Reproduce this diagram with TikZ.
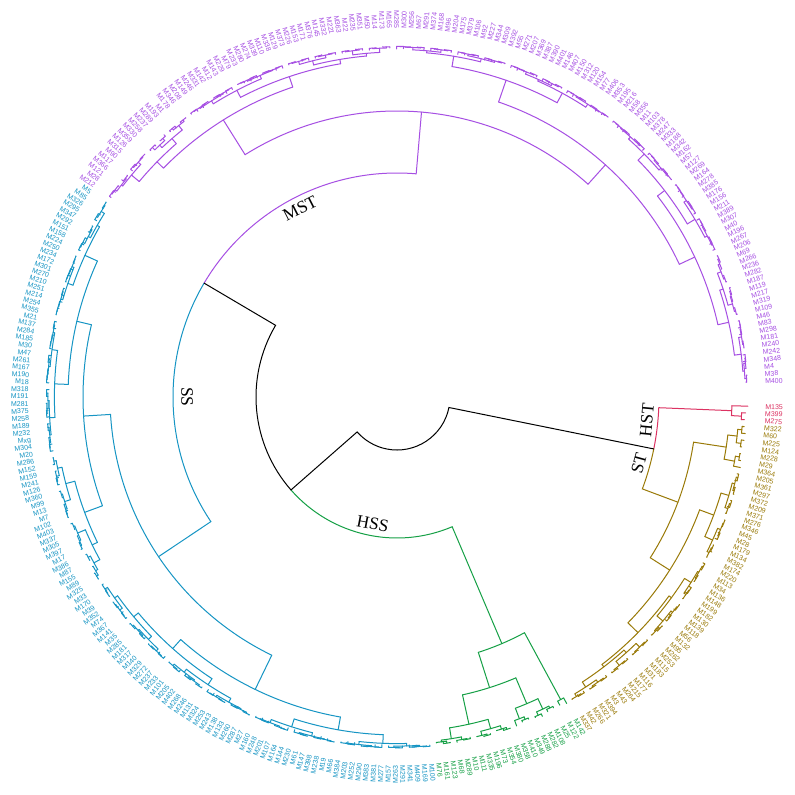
\documentclass[tikz,border=0pt]{standalone}
\usepackage{fontspec}
\setmainfont{Liberation Serif}
\newfontfamily\labfont{Liberation Sans}

\definecolor{hstcol}{HTML}{DC3262}
\definecolor{stcol}{HTML}{9A7A08}
\definecolor{hsscol}{HTML}{16A046}
\definecolor{sscol}{HTML}{1695C4}
\definecolor{mstcol}{HTML}{A64FE3}

\tikzset{
  leaflab/.style={font=\labfont\fontsize{7}{8}\selectfont, inner sep=0pt, text height=5pt, text depth=0pt},
  cladelab/.style={font=\fontsize{17.5}{18}\selectfont, inner sep=0pt}
}

% leaf i: returns its angle and tip radius
\newcommand\tipR{351}
\newcommand\Lf[1]{%
  \pgfmathsetmacro\ra{-(1.5+1.1232*#1)}%
  \pgfmathsetmacro\rt{\tipR-3*abs(sin(41*#1))}%
  \xdef\retA{\ra}\xdef\retR{\rt}}

% inner node at radius #1 with children #2 and #3
\newcommand\Tr[3]{%
  \begingroup
  #2\let\aA\retA\let\rA\retR
  #3\let\aB\retA\let\rB\retR
  \draw (\aA:#1pt) arc[start angle=\aA, end angle=\aB, radius=#1pt];
  \draw (\aA:#1pt) -- (\aA:\rA pt);
  \draw (\aB:#1pt) -- (\aB:\rB pt);
  \pgfmathsetmacro\am{(\aA+\aB)/2}%
  \xdef\retA{\am}\xdef\retR{#1}%
  \endgroup}

% small clade over leaves #1..#2, node at radius #3
\newcommand\Sub[3]{%
  \begingroup
  \ifnum#1=#2\relax \Lf{#1}%
  \else
    \pgfmathtruncatemacro\mm{(#1+#2)/2}%
    \pgfmathtruncatemacro\mn{\mm+1}%
    \pgfmathsetmacro\rcA{#3+(\tipR-#3)*(0.3+0.4*abs(sin(13*#1+29*\mm)))}%
    \pgfmathsetmacro\rcB{#3+(\tipR-#3)*(0.3+0.4*abs(sin(17*#2+23*\mn)))}%
    \edef\next{\noexpand\Tr{#3}{\noexpand\Sub{#1}{\mm}{\rcA}}{\noexpand\Sub{\mn}{#2}{\rcB}}}%
    \next
  \fi
  \endgroup}

% leaf labels from index #1 in colour #2
\newcommand\Labels[3]{%
  \foreach \lab [count=\k from #1] in {#3} {
    \pgfmathsetmacro\th{1.5+1.1232*\k}
    \pgfmathtruncatemacro\flip{(\th>90)*(\th<270)}
    \ifnum\flip=1
      \node[leaflab, #2, anchor=east, rotate=-\th+180] (lab\k) at (-\th:368pt) {\lab};
    \else
      \node[leaflab, #2, anchor=west, rotate=-\th] (lab\k) at (-\th:368pt) {\lab};
    \fi
  }}

\begin{document}
\begin{tikzpicture}[line width=1pt, line cap=round]
\fill[white] (-397pt,-398pt) rectangle (398pt,397pt);
\useasboundingbox (-397pt,-398pt) rectangle (398pt,397pt);

\begin{scope}[hstcol]
  \Tr{335}{\Lf{0}}{\Tr{345}{\Lf{1}}{\Lf{2}}}
\end{scope}
\let\aHST\retA \let\rHST\retR
\begin{scope}[stcol]
  \Tr{300}{\Sub{3}{9}{333}}{\Tr{323}{\Sub{10}{23}{338}}{\Tr{337}{\Sub{24}{37}{340}}{\Sub{38}{52}{340}}}}
\end{scope}
\let\aST\retA \let\rST\retR
\begin{scope}[hsscol]
  \Tr{268}{\Sub{53}{54}{344}}{\Tr{305}{\Sub{55}{61}{333}}{\Sub{62}{73}{335}}}
\end{scope}
\let\aHSS\retA \let\rHSS\retR
\begin{scope}[sscol]
  \Tr{287}{\Tr{325}{\Sub{74}{100}{338}}{\Sub{101}{130}{337}}}{\Tr{314}{\Sub{131}{150}{333}}{\Sub{151}{189}{329}}}
\end{scope}
\let\aSS\retA \let\rSS\retR
\begin{scope}[mstcol]
  \Tr{286}{\Tr{327}{\Sub{190}{206}{336}}{\Sub{207}{238}{338}}}{\Tr{312}{\Sub{239}{272}{335}}{\Tr{329}{\Sub{273}{297}{338}}{\Sub{298}{317}{340}}}}
\end{scope}
\let\aMST\retA \let\rMST\retR

% joins near the root
\pgfmathsetmacro\aHS{(\aHST+\aST)/2}
\pgfmathsetmacro\aSM{(\aSS+\aMST)/2}
\pgfmathsetmacro\aN{(\aSM+\aHSS)/2}
\draw[hstcol] (\aHS:262pt) arc[start angle=\aHS, end angle=\aHST, radius=262pt] -- (\aHST:\rHST pt);
\draw[stcol] (\aHS:262pt) arc[start angle=\aHS, end angle=\aST, radius=262pt] -- (\aST:\rST pt);
\draw[sscol] (\aSM:224pt) arc[start angle=\aSM, end angle=\aSS, radius=224pt] -- (\aSS:\rSS pt);
\draw[mstcol] (\aSM:224pt) arc[start angle=\aSM, end angle=\aMST, radius=224pt] -- (\aMST:\rMST pt);
\draw[hsscol] (\aN:141pt) arc[start angle=\aN, end angle=\aHSS, radius=141pt] -- (\aHSS:\rHSS pt);
\draw (\aN:141pt) arc[start angle=\aN, end angle=\aSM, radius=141pt] -- (\aSM:224pt);
\draw (\aHS:262pt) -- (\aHS:53pt) arc[start angle=\aHS, end angle=\aN, radius=53pt] -- (\aN:141pt);

% clade names
\node[cladelab, rotate=84.7] (labHST) at (-5.3:251pt) {HST};
\node[cladelab, rotate=74.7] (labST) at (-15.3:251pt) {ST};
\node[cladelab, rotate=-10.8] (labHSS) at (-100.8:129pt) {HSS};
\node[cladelab, rotate=-90] (labSS) at (-180:210pt) {SS};
\node[cladelab, rotate=27.2] (labMST) at (-242.8:212pt) {MST};

% tip labels
\Labels{0}{hstcol}{M135,M399,M275}
\Labels{3}{stcol}{M322,M60,M225,M124,M228,M29,M364,M205,M361,M297,M372,M209,M371,M276,M346,M45,M28,M179,M134,M382,M174,M220,M113,M34,M136,M148,M199,M182,M130,M139,M118,M56,M132,M95,M262,M253,M115,M183,M31,M116,M177,M215,M264,M43,M3,M394,M321,M266,M42,M337}
\Labels{53}{hsscol}{M142,M122,M25,M108,M282,M288,M349,M410,M358,M380,M354,M73,M196,M335,M111,M10,M289,M68,M123,M161,M76}
\Labels{74}{sscol}{M100,M169,M409,M341,M291,M263,M157,M277,M381,M383,M290,M252,M203,M384,M66,M19,M238,M398,M147,M61,M230,M144,M164,M107,M201,M248,M160,M27,M287,M260,M133,M138,M243,M253,M324,M131,M246,M268,M402,M205,M101,M233,M237,M272,M329,M140,M317,M181,M285,M35,M141,M367,M74,M352,M39,M170,M33,M325,M89,M155,M87,M386,M17,M397,M305,M337,M403,M102,M7,M13,M99,M360,M126,M241,M159,M152,M286,M20,M304,Mxg,M232,M189,M258,M375,M281,M191,M318,M18,M190,M167,M261,M47,M30,M185,M284,M137,M21,M355,M254,M214,M251,M210,M270,M301,M172,M234,M250,M224,M158,M151,M292,M347,M295,M326,M85,M5}
\Labels{190}{mstcol}{M212,M28,M121,M366,M117,M90,M315,M126,M359,M330,M258,M237,M289,M193,M1,M178,M346,M208,M149,M246,M331,M142,M12,M143,M229,M79,M233,M280,M274,M339,M110,M338,M129,M373,M226,M153,M171,M376,M145,M332,M221,M363,M22,M235,M351,M50,M14,M173,M165,M285,M300,M256,M67,M291,M374,M168,M96,M204,M175,M379,M106,M92,M227,M344,M309,M392,M55,M271,M207,M369,M387,M390,M401,M146,M407,M150,M312,M120,M154,M77,M406,M353,M195,M216,M58,M356,M11,M103,M378,M247,M333,M188,M342,M162,M57,M127,M269,M164,M278,M385,M176,M156,M211,M389,M307,M40,M196,M267,M206,M69,M266,M236,M282,M187,M119,M217,M319,M109,M46,M83,M298,M181,M240,M242,M348,M4,M38,M400}
\end{tikzpicture}
\end{document}
